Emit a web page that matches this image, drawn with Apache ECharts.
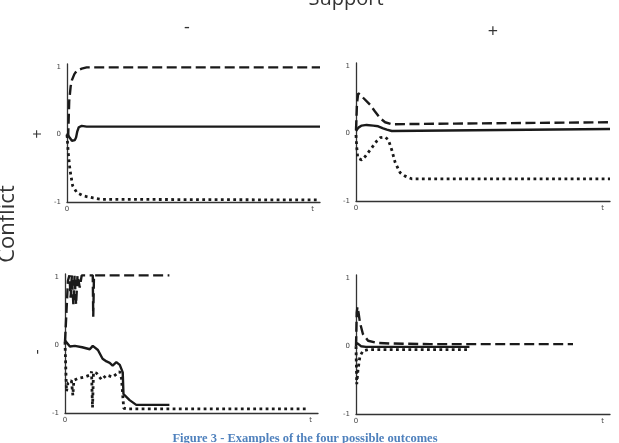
<!DOCTYPE html>
<html>
<head>
<meta charset="utf-8">
<script src="https://cdn.jsdelivr.net/npm/echarts@6/dist/echarts.min.js"></script>
<style>html,body{margin:0;padding:0;background:#fff;}#c{width:619px;height:443px;}</style>
</head>
<body>
<div id="c"></div>
<script>
// ---- data: [t, value] ----
const tlDashed = [[0,-0.05],[0.5,0.0],[0.9,0.5],[1.5,0.72],[2,0.81],[3,0.9],[4,0.95],[6,0.98],[8,1.0],[103,1.0]];
const tlSolid  = [[0,0.02],[0.5,0.0],[1.2,-0.05],[2,-0.09],[2.6,-0.1],[3.2,-0.08],[3.7,-0.04],[4.2,0.05],[4.8,0.11],[6,0.13],[8,0.12],[103,0.12]];
const tlDotted = [[0,0.0],[0.5,-0.27],[1.2,-0.52],[2.3,-0.76],[4,-0.86],[6.7,-0.91],[10.7,-0.94],[14,-0.96],[103,-0.97]];

const trDashed = [[0,0.05],[0.4,0.45],[0.9,0.6],[2,0.57],[3,0.53],[5.7,0.43],[7.7,0.33],[9.8,0.23],[11.8,0.17],[14.5,0.14],[40,0.15],[103,0.17]];
const trSolid  = [[0,0.04],[1,0.09],[2.3,0.12],[4.3,0.13],[7,0.12],[9,0.11],[11,0.08],[12.5,0.06],[14.5,0.04],[103,0.07]];
const trDotted = [[0,-0.02],[0.3,-0.2],[0.7,-0.36],[2.3,-0.39],[3.7,-0.34],[6.4,-0.21],[8.4,-0.11],[9.8,-0.06],[11.8,-0.05],[13.1,-0.09],[14.5,-0.24],[15.9,-0.43],[17.9,-0.58],[19.9,-0.63],[22.6,-0.67],[103,-0.67]];

const blDashed = [[0,0.05],[0.6,0.5],[1.2,0.95],[1.8,1.03],[2.3,0.7],[2.8,1.03],[3.4,0.6],[3.9,1.03],[4.5,0.6],[5.1,1.03],[6,0.85],[6.8,1.03],[11.3,1.03],[11.5,0.42],[11.8,1.03],[42.5,1.03]];
const blSolid  = [[0,0.07],[0.7,0.05],[2,-0.02],[4,-0.01],[7,-0.03],[10.1,-0.06],[11.3,-0.01],[13.4,-0.07],[15.3,-0.2],[16.9,-0.24],[18.2,-0.26],[19.4,-0.3],[20.9,-0.25],[22.3,-0.29],[23.5,-0.4],[23.8,-0.72],[26.3,-0.81],[29,-0.88],[42.5,-0.88]];
const blDotted = [[0,0.05],[0.6,-0.68],[1.2,-0.56],[2.6,-0.52],[3.2,-0.74],[3.6,-0.52],[5.3,-0.49],[8,-0.47],[10.1,-0.44],[10.8,-0.39],[11.2,-0.92],[11.6,-0.4],[12.8,-0.41],[14.9,-0.51],[16.9,-0.44],[19.4,-0.47],[22.3,-0.39],[23,-0.49],[23.9,-0.93],[25.5,-0.94],[98.4,-0.94]];

const brDashed = [[0,0.0],[0.3,0.5],[0.6,0.58],[1.0,0.5],[1.6,0.35],[2.8,0.18],[4.9,0.08],[8.4,0.05],[13.8,0.04],[30,0.03],[88,0.03]];
const brSolid  = [[0,0.05],[1,0.03],[2,0.0],[4,-0.01],[46,-0.01]];
const brDotted = [[0,0.0],[0.3,-0.56],[0.8,-0.35],[1.6,-0.15],[2.8,-0.07],[5,-0.05],[45,-0.05]];

const yTickLabels = {'-1':'-1','0':'0','1':'1'};
const xTickLabels = {'0':'0','100':'t'};
const supportTitle = 'Support';
const conflictTitle = 'Conflict';
const caption = 'Figure 3 - Examples of the four possible outcomes';

const panels = [
  {grid:{left:67, top:64, width:253, height:138}, lines:[tlDashed, tlSolid, tlDotted]},
  {grid:{left:356, top:63, width:254, height:138}, lines:[trDashed, trSolid, trDotted]},
  {grid:{left:65, top:274, width:253, height:139}, lines:[blDashed, blSolid, blDotted]},
  {grid:{left:356, top:275, width:254, height:139}, lines:[brDashed, brSolid, brDotted]}
];

const ink = '#1a1a1a';
const lineStyles = [
  {type:[10,4.5], width:2.4, color:ink},
  {type:'solid', width:2.4, color:ink},
  {type:[2.8,3.4], width:2.8, color:ink}
];

const grids = [], xAxes = [], yAxes = [], series = [];
panels.forEach((p, i) => {
  grids.push(p.grid);
  xAxes.push({
    gridIndex:i, type:'value', min:0, max:103, interval:100,
    axisLine:{show:true, onZero:false, lineStyle:{color:'#333', width:1.3}},
    axisTick:{show:false}, splitLine:{show:false},
    axisLabel:{fontSize:7, color:'#444', margin:4, fontFamily:'DejaVu Sans',
      formatter: v => xTickLabels[String(v)] || ''}
  });
  yAxes.push({
    gridIndex:i, type:'value', min:-1, max:1.05, interval:1,
    axisLine:{show:true, onZero:false, lineStyle:{color:'#333', width:1.3}},
    axisTick:{show:false}, splitLine:{show:false},
    axisLabel:{fontSize:7, color:'#444', margin:6, fontFamily:'DejaVu Sans',
      formatter: v => yTickLabels[String(v)] || ''}
  });
  p.lines.forEach((d, k) => {
    series.push({
      type:'line', xAxisIndex:i, yAxisIndex:i, data:d,
      showSymbol:false, symbol:'none', smooth:false,
      lineStyle:lineStyles[k], z: 3 - k
    });
  });
});

const chart = echarts.init(document.getElementById('c'), null, {renderer:'canvas'});
chart.setOption({
  animation:false,
  backgroundColor:'#fff',
  grid:grids, xAxis:xAxes, yAxis:yAxes, series:series,
  graphic:[
    {type:'text', x:346, y:9, style:{text:supportTitle, font:'20px "Open Sans"', fill:'#333', align:'center', verticalAlign:'bottom'}},
    {type:'text', x:187, y:28, style:{text:'-', font:'18px "Open Sans"', fill:'#333', align:'center', verticalAlign:'middle'}},
    {type:'text', x:493, y:32, style:{text:'+', font:'18px "Open Sans"', fill:'#333', align:'center', verticalAlign:'middle'}},
    {type:'text', x:8, y:224, rotation:Math.PI/2, style:{text:conflictTitle, font:'22px "Open Sans"', fill:'#333', align:'center', verticalAlign:'middle'}},
    {type:'text', x:38, y:134, rotation:Math.PI/2, style:{text:'+', font:'16px "Open Sans"', fill:'#333', align:'center', verticalAlign:'middle'}},
    {type:'text', x:37, y:352, rotation:Math.PI/2, style:{text:'-', font:'16px "Open Sans"', fill:'#333', align:'center', verticalAlign:'middle'}},
    {type:'text', x:305, y:432, style:{text:caption, font:'bold 12.5px "Liberation Serif"', fill:'#4f81bd', align:'center', verticalAlign:'top'}}
  ]
});
</script>
</body>
</html>
